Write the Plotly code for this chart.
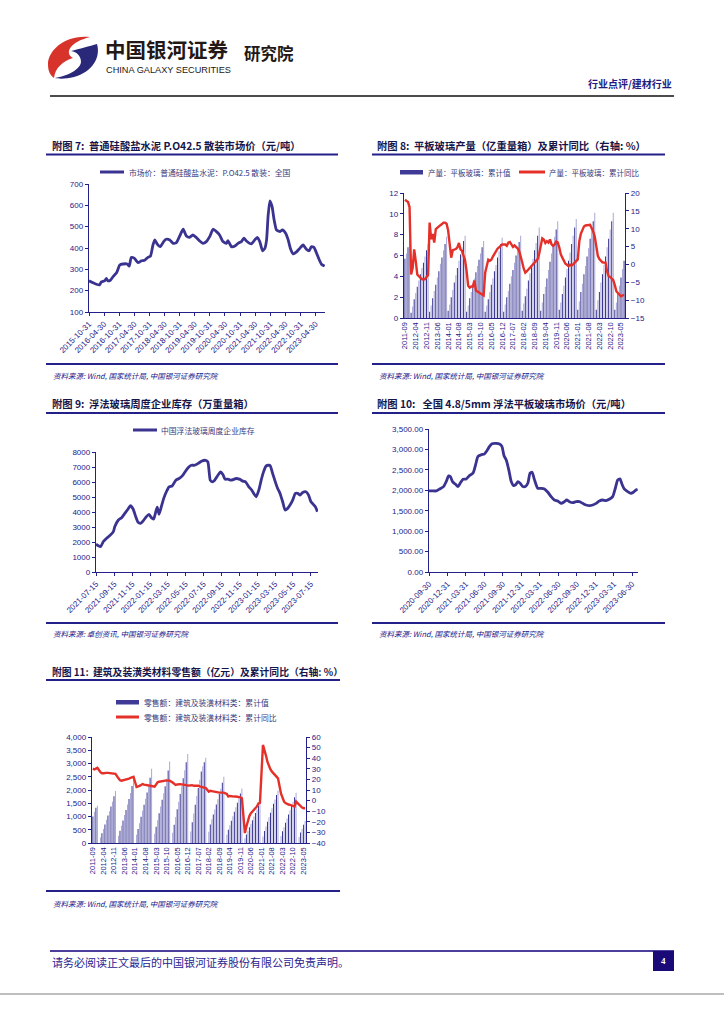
import plotly.graph_objects as go
import pandas as pd

W, H = 724, 1024
def X(px): return px / W
def Y(py): return 1 - py / H

NAVY = '#24208A'
TXT = '#15154A'
BLUE_LINE = '#3A3390'
RED_LINE = '#E5302A'
BAR_DARK = '#34318C'
BAR_LIGHT = '#A9A7D6'
CJK = 'Noto Sans CJK SC'
LAT = 'Liberation Sans'

# ---------------- Chart 7 data: cement price ----------------
c7_dates = ["2015-10-31","2015-12-18","2016-01-28","2016-03-06","2016-03-28","2016-05-06","2016-05-28","2016-06-15","2016-07-15","2016-08-15",
            "2016-09-28","2016-11-06","2016-12-15","2017-02-03","2017-02-28","2017-03-25","2017-05-03","2017-06-15","2017-07-25","2017-09-03",
            "2017-10-12","2017-11-12","2017-12-12","2018-01-03","2018-01-31","2018-03-10","2018-04-20","2018-05-20","2018-07-03","2018-08-12",
            "2018-09-20","2018-10-31","2018-12-12","2019-01-20","2019-02-28","2019-04-08","2019-05-18","2019-06-30","2019-08-08","2019-09-18",
            "2019-10-28","2019-12-08","2020-01-18","2020-02-25","2020-04-05","2020-05-18","2020-06-05","2020-07-18","2020-08-28","2020-10-05",
            "2020-11-15","2020-12-15","2021-01-15","2021-03-15","2021-04-25","2021-05-25","2021-06-25","2021-07-28","2021-08-25","2021-09-15",
            "2021-10-03","2021-10-25","2021-11-20","2021-12-15","2022-01-12","2022-02-25","2022-03-25","2022-05-03","2022-06-03","2022-06-30",
            "2022-08-03","2022-09-12","2022-10-20","2022-11-30","2023-01-12","2023-02-12","2023-03-10","2023-04-10","2023-05-10","2023-06-12",
            "2023-07-10","2023-08-18"]
c7_vals = [246,237,230,227,241,246,257,246,249,265,
           284,320,325,325,315,356,351,331,340,343,
           356,362,414,438,419,406,430,441,438,422,
           425,456,488,456,450,461,450,433,422,430,
           453,488,477,461,430,422,435,406,409,422,
           430,446,433,419,438,450,430,387,398,438,
           548,621,595,532,485,477,485,469,438,398,
           372,382,398,414,393,387,406,403,378,346,
           324,315]
c7_ticks = ["2015-10-31","2016-04-30","2016-10-31","2017-04-30","2017-10-31","2018-04-30","2018-10-31","2019-04-30",
            "2019-10-31","2020-04-30","2020-10-31","2021-04-30","2021-10-31","2022-04-30","2022-10-31","2023-04-30"]

# ---------------- Chart 8 data: flat glass output ----------------
c8_bars = [5.7, 6.2, 6.8, 7.4,
           0.5, 1.1, 1.8, 2.4, 3.0, 3.6, 4.2, 4.8, 5.3, 5.9, 6.5, 7.1,
           0.6, 1.2, 1.9, 2.6, 3.2, 3.9, 4.5, 5.2, 5.8, 6.5, 7.1, 7.8,
           0.7, 1.3, 2.0, 2.7, 3.4, 4.1, 4.8, 5.5, 6.1, 6.8, 7.4, 7.9,
           0.6, 1.2, 1.9, 2.5, 3.1, 3.8, 4.4, 5.0, 5.6, 6.2, 6.8, 7.4,
           0.6, 1.2, 1.8, 2.5, 3.2, 3.8, 4.5, 5.1, 5.8, 6.4, 7.1, 7.7,
           0.6, 1.3, 2.0, 2.6, 3.3, 4.0, 4.6, 5.3, 6.0, 6.6, 7.3, 7.9,
           0.7, 1.4, 2.1, 2.8, 3.6, 4.3, 5.0, 5.7, 6.5, 7.2, 7.9, 8.7,
           0.7, 1.5, 2.3, 3.0, 3.8, 4.6, 5.4, 6.2, 7.0, 7.8, 8.5, 9.3,
           0.8, 1.5, 2.3, 3.1, 3.9, 4.7, 5.5, 6.3, 7.1, 7.9, 8.7, 9.5,
           0.8, 1.6, 2.5, 3.3, 4.2, 5.0, 5.9, 6.7, 7.6, 8.4, 9.3, 10.1,
           0.8, 1.7, 2.5, 3.4, 4.2, 5.1, 5.9, 6.8, 7.6, 8.5, 9.3, 10.1,
           0.8, 1.5, 2.3, 3.1, 3.9, 4.7, 5.5]
c8_yoy = [18.1, 17.9, 17.5, 16.0,
          -2.8, -1.0, 4.2, 1.0, -2.8, -3.3, -3.7, -4.1, -4.2, -4.1, -3.5, -3.0,
          11.7, 7.1, 8.5, 6.1, 9.9, 10.3, 10.8, 11.0, 11.3, 11.7, 11.7, 11.4,
          9.5, 6.0, 1.9, 4.0, 4.2, 4.3, 4.8, 6.0, 4.2, 3.8, 2.4, 1.1,
          -2.0, -6.0, -6.5, -6.2, -6.2, -4.5, -7.3, -7.6, -8.0, -8.1, -8.4, -8.7,
          -2.3, -0.6, 1.3, 1.0, 1.3, 2.2, 3.0, 3.8, 4.4, 4.8, 5.3, 5.6,
          5.6, 5.6, 5.2, 6.1, 6.3, 5.7, 4.9, 5.3, 5.0, 4.5, 3.8, 2.5,
          0.6, -1.2, -2.3, -1.9, -1.4, -0.9, -0.5, 0.0, 0.4, 0.9, 1.5, 3.0,
          5.5, 7.3, 7.0, 6.0, 6.5, 6.1, 7.0, 5.6, 5.2, 5.6, 6.4, 6.2,
          4.8, 2.8, 1.9, 0.8, 0.2, -0.1, -0.5, -0.1, -0.3, 0.0, 0.5, 1.0,
          1.4, 6.5, 8.6, 9.6, 10.6, 10.9, 10.9, 11.0, 11.1, 10.1, 9.2, 7.8,
          5.5, 2.4, 1.5, 1.0, 0.6, 0.5, 0.5, -2.0, -3.3, -3.5, -3.9, -4.4,
          -5.8, -7.5, -8.0, -8.4, -8.9, -8.7, -8.5]
c8_months = [p.strftime('%Y-%m') for p in pd.period_range('2011-09', periods=len(c8_bars), freq='M')]

# ---------------- Chart 9 data: float glass inventory ----------------
c9_dates = ["2021-07-15","2021-07-23","2021-07-31","2021-08-09","2021-08-20","2021-08-31","2021-09-12","2021-09-17","2021-09-29","2021-10-10",
            "2021-10-21","2021-11-01","2021-11-09","2021-11-18","2021-11-27","2021-12-05","2021-12-13","2021-12-22","2022-01-02","2022-01-11",
            "2022-01-19","2022-01-27","2022-02-03","2022-02-08","2022-02-14","2022-02-22","2022-03-02","2022-03-11","2022-03-20","2022-03-31",
            "2022-04-12","2022-04-23","2022-05-04","2022-05-12","2022-05-23","2022-06-04","2022-06-15","2022-06-26","2022-07-08","2022-07-22",
            "2022-07-30","2022-08-07","2022-08-14","2022-08-22","2022-09-02","2022-09-11","2022-09-19","2022-09-26","2022-10-06","2022-10-17",
            "2022-11-03","2022-11-14","2022-11-26","2022-12-05","2022-12-16","2022-12-26","2023-01-04","2023-01-10","2023-01-19","2023-01-27",
            "2023-02-04","2023-02-13","2023-02-22","2023-02-27","2023-03-07","2023-03-16","2023-03-24","2023-04-01","2023-04-10","2023-04-18",
            "2023-04-27","2023-05-05","2023-05-14","2023-05-23","2023-05-31","2023-06-08","2023-06-17","2023-06-28","2023-07-07","2023-07-15",
            "2023-07-23","2023-07-30","2023-08-06"]
c9_vals = [1856,1746,1700,2033,2254,2431,2696,3028,3470,3624,
           3912,4199,4420,4199,3691,3315,3249,3403,3691,3845,
           3624,3536,4022,4331,3845,4354,4906,5348,5680,5746,
           6122,6232,6409,6630,6939,7116,7116,7226,7381,7447,
           7337,6122,6011,6122,6453,6674,6497,6188,6188,6122,
           6232,6188,6055,6011,5680,5459,5171,5017,5459,6122,
           6674,7072,7116,7072,6563,6011,5569,5238,4685,4133,
           4243,4464,4796,5238,5238,5127,5304,5348,5127,4685,
           4508,4354,4022]
c9_ticks = ["2021-07-15","2021-09-15","2021-11-15","2022-01-15","2022-03-15","2022-05-15","2022-07-15",
            "2022-09-15","2022-11-15","2023-01-15","2023-03-15","2023-05-15","2023-07-15"]

# ---------------- Chart 10 data: float glass price ----------------
c10_dates = ["2020-09-30","2020-10-20","2020-11-05","2020-11-22","2020-12-11","2020-12-24",
             "2021-01-05","2021-01-13","2021-01-26","2021-02-08","2021-02-20","2021-03-03","2021-03-17","2021-04-02","2021-04-18","2021-05-05",
             "2021-05-18","2021-05-30","2021-06-15","2021-07-01","2021-07-13","2021-07-26","2021-08-07","2021-08-28","2021-09-13","2021-09-25",
             "2021-10-05","2021-10-16","2021-10-29","2021-11-10","2021-11-21","2021-12-01","2021-12-13","2021-12-24",
             "2022-01-06","2022-01-19","2022-01-31","2022-02-11","2022-02-21","2022-03-05","2022-03-21","2022-04-07","2022-04-23","2022-05-10",
             "2022-05-26","2022-06-11","2022-06-28","2022-07-14","2022-07-31","2022-08-11","2022-08-24","2022-09-10","2022-09-26","2022-10-13",
             "2022-10-29","2022-11-15","2022-12-01","2022-12-17",
             "2023-01-03","2023-01-19","2023-02-05","2023-02-21","2023-03-09","2023-03-26","2023-04-08","2023-04-20","2023-05-01","2023-05-11",
             "2023-05-22","2023-06-08","2023-06-24","2023-07-06","2023-07-19","2023-07-27"]
c10_vals = [1984,1984,1984,2033,2090,2213,
            2352,2336,2197,2148,2090,2172,2270,2279,2361,2418,
            2623,2828,2869,2893,2967,3074,3139,3148,3131,3074,
            2852,2746,2500,2213,2115,2131,2213,2172,
            2090,2090,2172,2418,2443,2254,2049,2049,2033,1951,
            1844,1762,1738,1680,1721,1762,1721,1697,1721,1721,
            1680,1639,1623,1639,
            1680,1738,1762,1746,1779,1844,2049,2254,2279,2148,
            2033,1967,1926,1951,2008,2025]
c10_ticks = ["2020-09-30","2020-12-31","2021-03-31","2021-06-30","2021-09-30","2021-12-31",
             "2022-03-31","2022-06-30","2022-09-30","2022-12-31","2023-03-31","2023-06-30"]

# ---------------- Chart 11 data: building material retail ----------------
N = None
c11_bars = [1000, 1180, 1330, 1410,
            N, 210, 370, 530, 700, 880, 1040, 1200, 1380, 1560, 1760, 1960,
            N, 270, 460, 650, 850, 1060, 1250, 1450, 1660, 1890, 2150, 2450,
            N, 310, 530, 750, 990, 1220, 1440, 1670, 1910, 2160, 2460, 2800,
            N, 350, 610, 860, 1120, 1380, 1630, 1880, 2140, 2420, 2740, 3080,
            N, 390, 690, 980, 1270, 1560, 1850, 2140, 2440, 2750, 3050, 3360,
            N, 430, 780, 1110, 1440, 1770, 2080, 2390, 2700, 2900, 3050, 3220,
            N, 420, 700, 900, 1080, 1260, 1450, 1650, 1850, 2050, 2270, 2500,
            N, 310, 500, 670, 840, 1010, 1180, 1350, 1520, 1690, 1870, 2060,
            N, 180, 320, 450, 590, 730, 860, 1000, 1130, 1270, 1410, 1550,
            N, 250, 450, 620, 800, 970, 1140, 1310, 1480, 1640, 1810, 1980,
            N, 260, 440, 590, 760, 920, 1080, 1240, 1400, 1560, 1730, 1900,
            N, 230, 400, 540, 690, 830]
c11_yoy = [30.3, 29.4, 30.2, 31.0,
           N, 26.8, 25.8, 25.8, 26.2, 26.2, 26.2, 25.9, 25.6, 25.6, 25.6, 25.2,
           N, 21.0, 19.2, 18.8, 19.1, 19.4, 19.7, 20.0, 20.8, 21.4, 22.0, 22.5,
           N, 12.8, 13.2, 13.9, 14.8, 15.6, 15.1, 14.7, 14.4, 14.0, 13.8, 13.8,
           N, 13.2, 15.5, 17.3, 17.8, 18.1, 18.4, 18.9, 19.3, 19.1, 18.9, 18.8,
           N, 17.0, 15.3, 14.7, 15.2, 15.6, 15.5, 15.3, 15.2, 14.9, 14.6, 14.1,
           N, 14.5, 14.5, 14.0, 14.0, 14.3, 14.0, 13.4, 13.0, 12.7, 12.4, 11.9,
           N, 8.5, 9.3, 9.0, 8.6, 8.2, 7.8, 7.5, 7.5, 7.5, 7.5, 7.5,
           N, 6.2, 3.9, 4.4, 4.0, 3.8, 3.8, 3.8, 3.8, 3.8, 3.1, 2.2,
           N, -30.6, -24.4, -18.5, -14.5, -11.9, -10.2, -8.8, -7.6, -5.5, -2.7, -2.0,
           N, 52.5, 48.5, 42.5, 36.5, 32.5, 29.5, 27.3, 25.6, 24.0, 22.7, 21.0,
           N, 6.5, 2.0, -0.9, -2.3, -3.2, -3.7, -4.1, -4.8, -5.2, -5.6, -0.9,
           N, -3.5, -5.6, -6.6, -7.2, -7.2]
c11_months = [p.strftime('%Y-%m') for p in pd.period_range('2011-09', periods=len(c11_bars), freq='M')]

fig = go.Figure()

# Chart 7
fig.add_trace(go.Scatter(x=c7_dates, y=c7_vals, mode='lines', xaxis='x', yaxis='y',
                         line=dict(color=BLUE_LINE, width=2.8, shape='spline', smoothing=0.5), showlegend=False))
# Chart 8
idx8 = list(range(len(c8_bars)))
fig.add_trace(go.Bar(x=idx8, y=c8_bars, xaxis='x2', yaxis='y2', showlegend=False,
                     marker=dict(color=[BAR_DARK if i % 2 == 0 else BAR_LIGHT for i in idx8], line=dict(width=0))))
fig.add_trace(go.Scatter(x=idx8, y=c8_yoy, mode='lines', xaxis='x2', yaxis='y3', showlegend=False,
                         line=dict(color=RED_LINE, width=2.4)))
# Chart 9
fig.add_trace(go.Scatter(x=c9_dates, y=c9_vals, mode='lines', xaxis='x3', yaxis='y4',
                         line=dict(color=BLUE_LINE, width=2.8, shape='spline', smoothing=0.5), showlegend=False))
# Chart 10
fig.add_trace(go.Scatter(x=c10_dates, y=c10_vals, mode='lines', xaxis='x4', yaxis='y5',
                         line=dict(color=BLUE_LINE, width=2.8, shape='spline', smoothing=0.6), showlegend=False))
# Chart 11
idx11 = list(range(len(c11_bars)))
fig.add_trace(go.Bar(x=idx11, y=c11_bars, xaxis='x5', yaxis='y6', showlegend=False,
                     marker=dict(color=[BAR_DARK if i % 2 == 0 else BAR_LIGHT for i in idx11], line=dict(width=0))))
fig.add_trace(go.Scatter(x=idx11, y=c11_yoy, mode='lines', xaxis='x5', yaxis='y7', showlegend=False, connectgaps=True,
                         line=dict(color=RED_LINE, width=2.4)))

tf = dict(family=LAT, size=8, color=NAVY)
def yax(dom, rng, dtick, anchor, **kw):
    d = dict(domain=dom, range=rng, dtick=dtick, anchor=anchor, showline=True, linecolor=NAVY, linewidth=1.2,
             ticks='outside', ticklen=3, tickcolor=NAVY, tickfont=tf, showgrid=False, zeroline=False,
             fixedrange=True, automargin=False)
    d.update(kw)
    return d
def xax(dom, anchor, **kw):
    d = dict(domain=dom, anchor=anchor, showline=True, linecolor=NAVY, linewidth=1.2, showgrid=False, zeroline=False,
             tickfont=tf, fixedrange=True, automargin=False)
    d.update(kw)
    return d

fig.update_layout(
    xaxis=xax([X(89), X(325)], 'y', type='date', range=['2015-10-31', '2023-08-22'], tickvals=c7_ticks,
              ticktext=c7_ticks, tickangle=-45, ticks='outside', ticklen=3, tickcolor=NAVY),
    yaxis=yax([Y(312), Y(184)], [100, 700], 100, 'x'),
    xaxis2=xax([X(404), X(625)], 'y2', range=[-0.6, len(c8_bars) - 0.4], tickvals=idx8[::7],
               ticktext=c8_months[::7], tickangle=-90, tickfont=dict(family=LAT, size=7.5, color=NAVY)),
    yaxis2=yax([Y(318), Y(193)], [0, 12], 2, 'x2'),
    yaxis3=yax([Y(318), Y(193)], [-15, 20], 5, 'x2', overlaying='y2', side='right'),
    xaxis3=xax([X(96), X(318)], 'y4', type='date', range=['2021-07-15', '2023-08-08'], tickvals=c9_ticks,
               ticktext=c9_ticks, tickangle=-45, ticks='outside', ticklen=3, tickcolor=NAVY),
    yaxis4=yax([Y(572), Y(452)], [0, 8000], 1000, 'x3'),
    xaxis4=xax([X(429), X(638)], 'y5', type='date', range=['2020-09-30', '2023-07-29'], tickvals=c10_ticks,
               ticktext=c10_ticks, tickangle=-45, ticks='outside', ticklen=3, tickcolor=NAVY),
    yaxis5=yax([Y(572), Y(429)], [0, 3500], 500, 'x4', tickformat=',.2f'),
    xaxis5=xax([X(92), X(306)], 'y6', range=[-0.6, len(c11_bars) - 0.4], tickvals=idx11[::7],
               ticktext=c11_months[::7], tickangle=-90, tickfont=dict(family=LAT, size=7.5, color=NAVY)),
    yaxis6=yax([Y(843), Y(737)], [0, 4000], 500, 'x5', tickformat=',d'),
    yaxis7=yax([Y(843), Y(737)], [-40, 60], 10, 'x5', overlaying='y6', side='right'),
)

shapes = []
annots = []
def hline(y, x0, x1, color, width):
    shapes.append(dict(type='line', xref='paper', yref='paper', x0=X(x0), x1=X(x1), y0=Y(y), y1=Y(y),
                       line=dict(color=color, width=width)))
def rect(x0, y0, x1, y1, color):
    shapes.append(dict(type='rect', xref='paper', yref='paper', x0=X(x0), x1=X(x1), y0=Y(y1), y1=Y(y0),
                       fillcolor=color, line=dict(width=0)))
def text(x, y, s, size, color=TXT, family=CJK, xanchor='left', **kw):
    f = dict(family=family, size=size, color=color)
    f.update(kw)
    annots.append(dict(xref='paper', yref='paper', x=X(x), y=Y(y), text=s, showarrow=False,
                       xanchor=xanchor, yanchor='middle', font=f, borderpad=0))
def path(cmds, color):
    parts = []
    for c, pts in cmds:
        parts.append(c + ' ' + ' '.join('%.5f,%.5f' % (X(a), Y(b)) for a, b in pts))
    shapes.append(dict(type='path', xref='paper', yref='paper', path=' '.join(parts) + ' Z',
                       fillcolor=color, line=dict(width=0)))

# Header logo
path([('M', [(90, 37)]), ('C', [(66, 34), (48, 50), (48, 64)]), ('C', [(48, 71), (50, 75), (54, 78)]),
      ('C', [(55, 68), (63, 61), (73, 58)]), ('C', [(64, 53), (70, 42), (90, 37)])], '#D7332B')
path([('M', [(97, 44)]), ('C', [(101, 58), (92, 72), (74, 77)]), ('C', [(66, 79), (59, 79), (55, 78)]),
      ('C', [(67, 76), (80, 70), (81, 62)]), ('C', [(81, 56), (77, 52), (71, 51)]), ('C', [(79, 49), (90, 46), (97, 44)])], '#2A2878')
text(104, 48.5, '<b>中国银河证券</b>', 20.5, color='#231815')
text(105, 69.5, 'CHINA GALAXY SECURITIES', 9.2, color='#231815', family=LAT)
text(243, 53, '<b>研究院</b>', 16.5, color='#231815')
text(673, 83, '<b>行业点评/建材行业</b>', 10, color='#1F1A7E', xanchor='right')
hline(96, 50, 674, '#111111', 1.6)

TS = 10.3
# Chart 7 frame
text(51, 145, '<b>附图 7:  普通硅酸盐水泥 P.O42.5 散装市场价（元/吨）</b>', TS)
hline(154.5, 46, 338, NAVY, 1.8)
hline(364, 46, 338, NAVY, 1.8)
text(52, 375, '资料来源: Wind, 国家统计局, 中国银河证券研究院', 7.5, color=NAVY, style='italic')
hline(172, 100, 124, BLUE_LINE, 3)
text(128, 172, '市场价：普通硅酸盐水泥：P.O42.5 散装：全国', 7.8, color='#3A3A7A')

# Chart 8 frame
text(376, 145, '<b>附图 8:  平板玻璃产量（亿重量箱）及累计同比（右轴: %）</b>', TS)
hline(154.5, 372, 665, NAVY, 1.8)
hline(364, 372, 665, NAVY, 1.8)
text(378, 375, '资料来源: Wind, 国家统计局, 中国银河证券研究院', 7.5, color=NAVY, style='italic')
rect(400, 170, 423, 174.5, '#3E3A95')
text(427, 172, '产量：平板玻璃：累计值', 7.5, color='#3A3A7A')
hline(172, 519, 545, RED_LINE, 3)
text(548, 172, '产量：平板玻璃：累计同比', 7.5, color='#3A3A7A')

# Chart 9 frame
text(51, 403, '<b>附图 9:  浮法玻璃周度企业库存（万重量箱）</b>', TS)
hline(413, 46, 338, NAVY, 1.8)
hline(623, 46, 338, NAVY, 1.8)
text(52, 633, '资料来源: 卓创资讯, 中国银河证券研究院', 7.5, color=NAVY, style='italic')
hline(430, 133, 157, BLUE_LINE, 3)
text(160, 430, '中国浮法玻璃周度企业库存', 7.8, color='#3A3A7A')

# Chart 10 frame
text(376, 403, '<b>附图 10:   全国 4.8/5mm 浮法平板玻璃市场价（元/吨）</b>', TS)
hline(413, 372, 665, NAVY, 1.8)
hline(623, 372, 665, NAVY, 1.8)
text(378, 633, '资料来源: Wind, 国家统计局, 中国银河证券研究院', 7.5, color=NAVY, style='italic')

# Chart 11 frame
text(51, 672, '<b>附图 11:  建筑及装潢类材料零售额（亿元）及累计同比（右轴: %）</b>', 9.8)
hline(680, 46, 340, NAVY, 1.8)
hline(891, 46, 340, NAVY, 1.8)
text(52, 903, '资料来源: Wind, 国家统计局, 中国银河证券研究院', 7.5, color=NAVY, style='italic')
rect(116, 700, 139, 704.5, '#3E3A95')
text(143, 702, '零售额：建筑及装潢材料类：累计值', 7.8, color='#3A3A7A')
hline(717, 116, 139, RED_LINE, 3)
text(143, 717, '零售额：建筑及装潢材料类：累计同比', 7.8, color='#3A3A7A')

# Footer
hline(951, 50, 674, '#4B3F9B', 2)
rect(653, 951, 674, 971, '#1A0A78')
text(663.5, 961, '<b>4</b>', 9, color='white', family='Liberation Serif', xanchor='center')
text(51, 962, '请务必阅读正文最后的中国银河证券股份有限公司免责声明。', 11, color='#2B2290')
hline(994, 0, 724, '#AAAAAA', 1.5)

fig.update_layout(width=W, height=H, margin=dict(l=0, r=0, t=0, b=0, pad=0), autosize=False,
                  paper_bgcolor='white', plot_bgcolor='white', bargap=0.35,
                  shapes=shapes, annotations=annots, showlegend=False)

fig.write_html("out.html", config={'displayModeBar': False, 'staticPlot': True},
               post_script="document.body.style.margin='0';document.body.style.overflow='hidden';")
